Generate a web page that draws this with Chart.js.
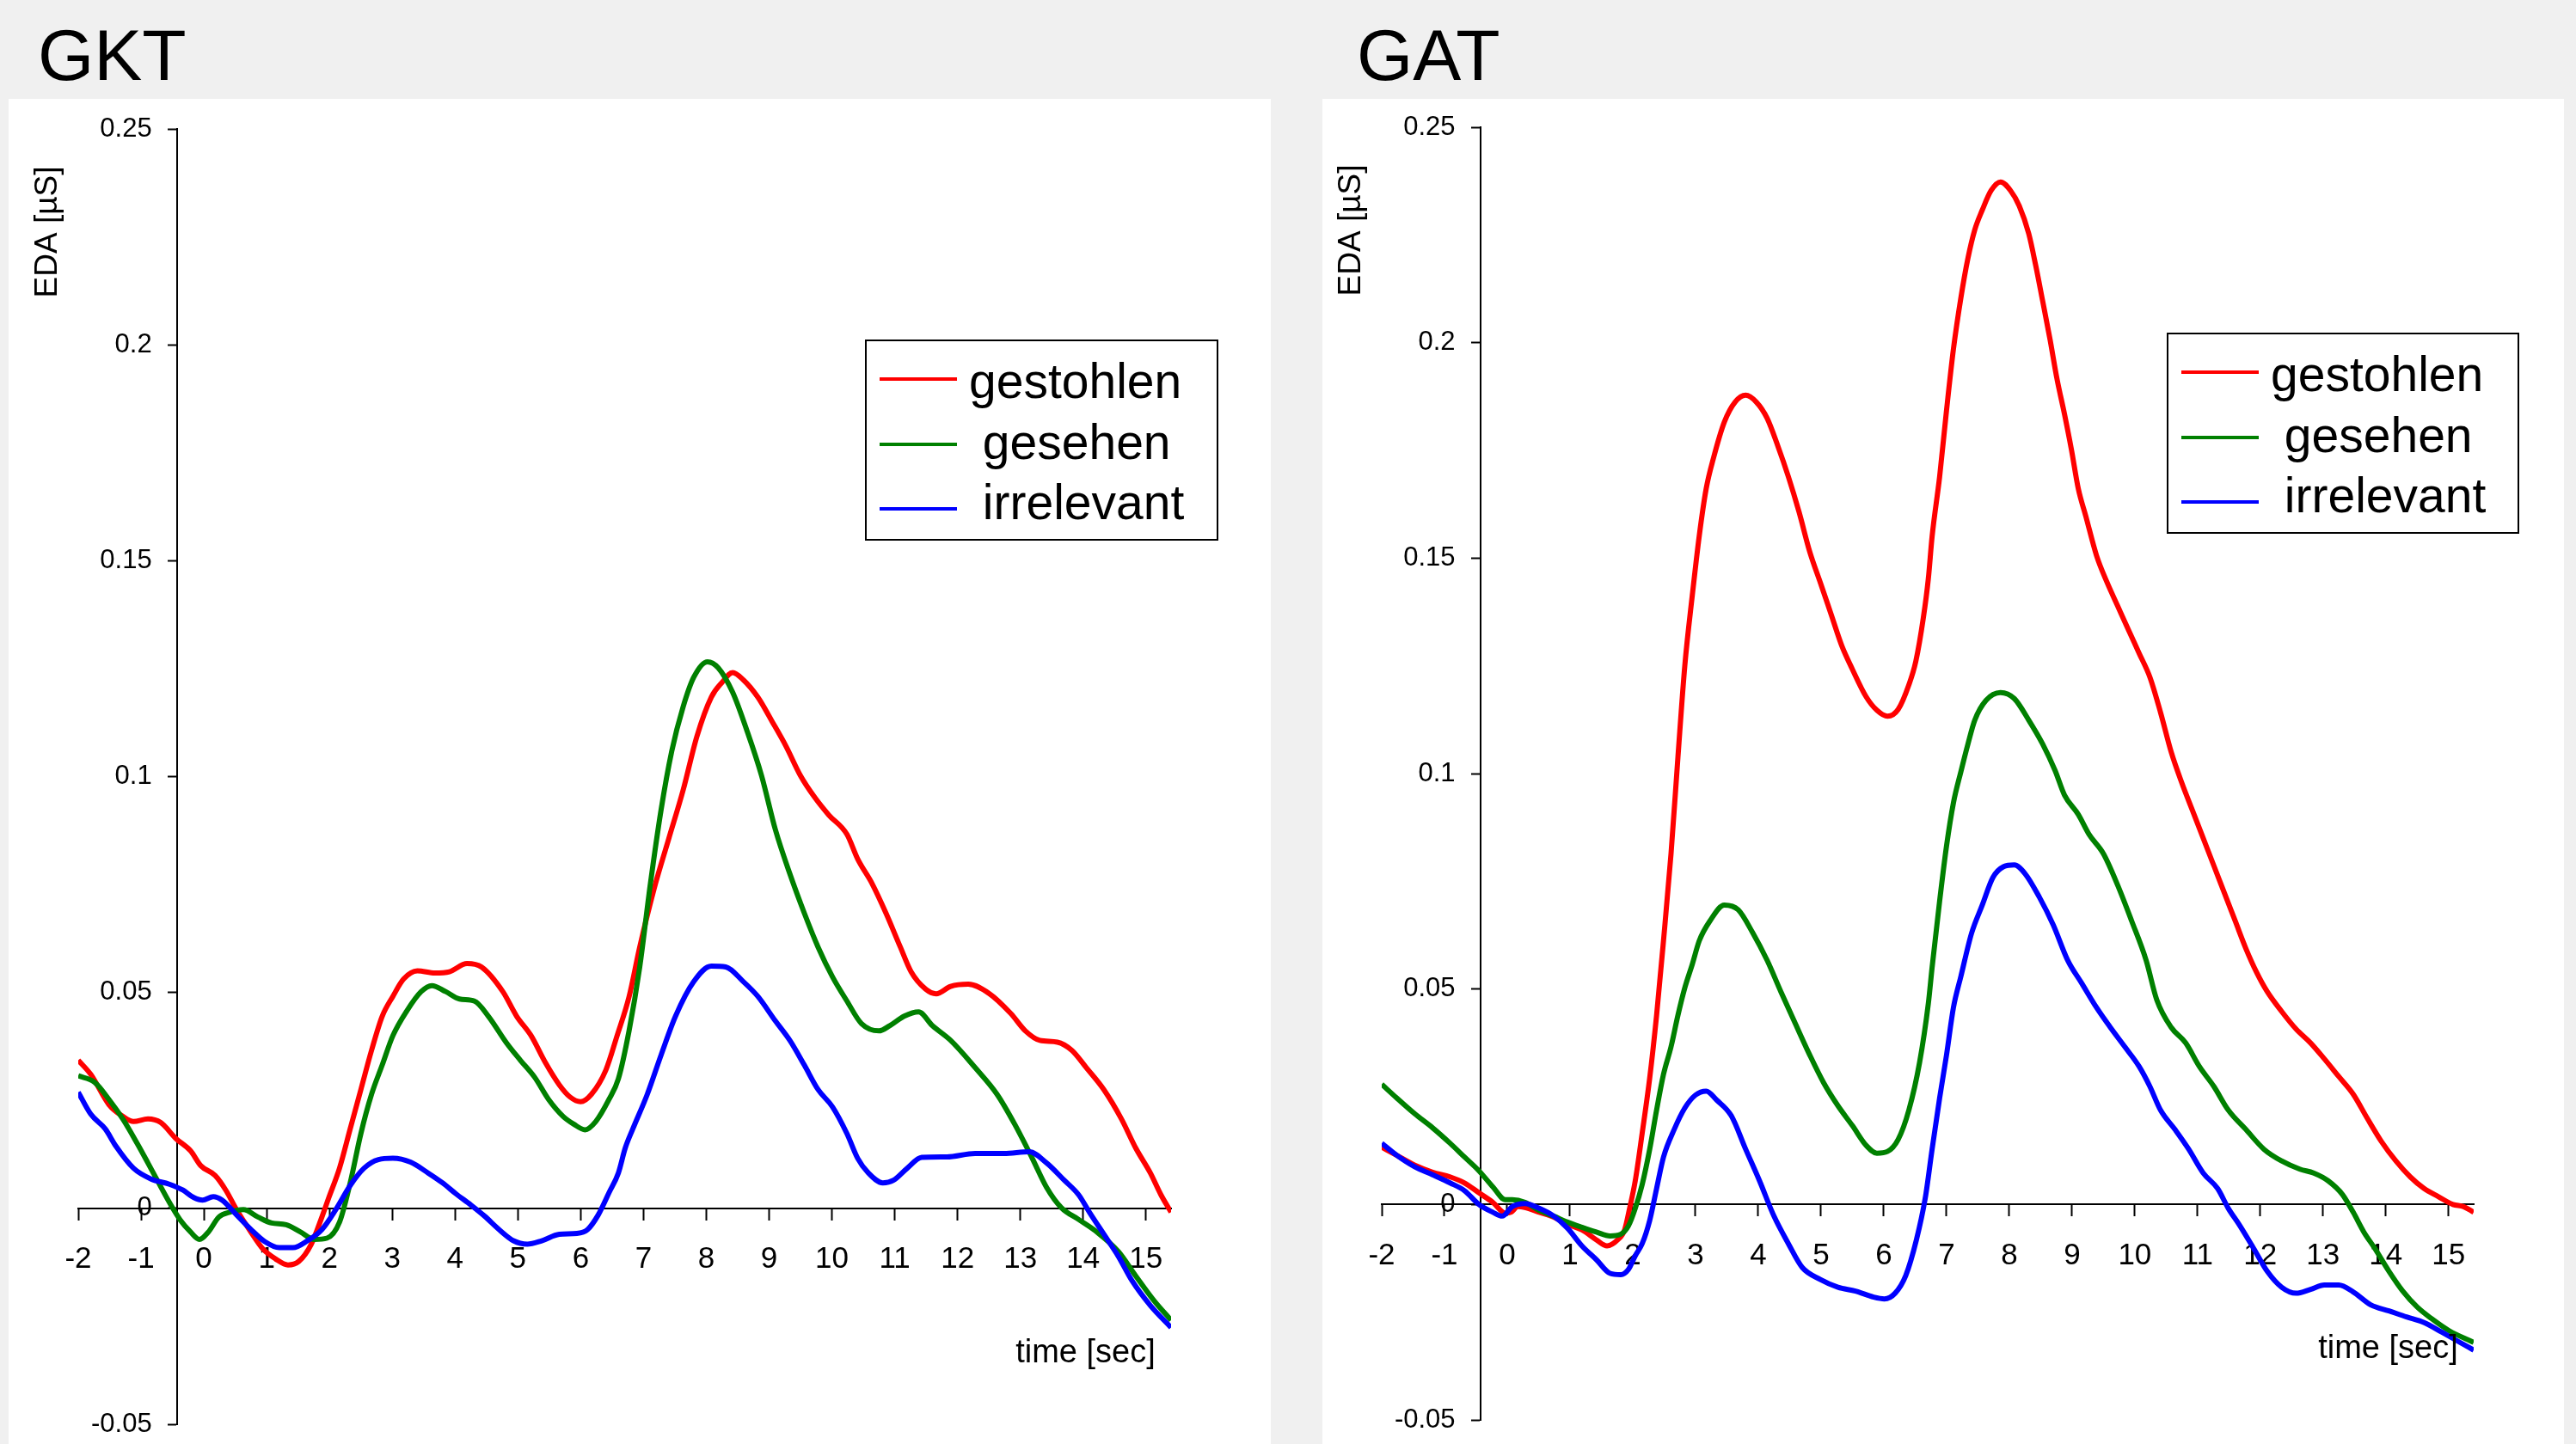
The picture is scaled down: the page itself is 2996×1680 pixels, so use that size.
<!DOCTYPE html>
<html>
<head>
<meta charset="utf-8">
<title>EDA GKT / GAT</title>
<script src="https://cdn.jsdelivr.net/npm/chart.js@4.4.1/dist/chart.umd.min.js"></script>
<style>
  html, body { margin: 0; padding: 0; background: #f0f0f0; }
  body { width: 2996px; height: 1680px; position: relative; overflow: hidden; font-family: "Liberation Sans", Arial, sans-serif; }
  .title { position: absolute; top: 22px; font-size: 84px; line-height: 84px; color: #000; }
  .panel { position: absolute; top: 115px; height: 1565px; background: #fff; }
  .panel canvas { position: absolute; left: 0; top: 0; }
</style>
</head>
<body>
<div class="title" style="left:44px">GKT</div>
<div class="title" style="left:1578px">GAT</div>
<div class="panel" style="left:10px; width:1468px"><canvas id="gkt" width="1468" height="1565"></canvas></div>
<div class="panel" style="left:1538px; width:1444px"><canvas id="gat" width="1444" height="1565"></canvas></div>
<script>
// series labels (leading spaces as in the original legend)
const labels = ['gestohlen', ' gesehen', ' irrelevant'];
const colors = ['#ff0000', '#008000', '#0000ff'];

// ---- GKT ----
const gktStolenT = [-2, -1.8, -1.51, -1.29, -1.12, -0.89, -0.69, -0.44, -0.21, -0.05, 0.18, 0.35, 0.52, 0.75, 0.94, 1.14, 1.34, 1.51, 1.71, 1.88, 1.99, 2.16, 2.33, 2.5, 2.67, 2.84, 3.01, 3.18, 3.4, 3.68, 3.91, 4.19, 4.42, 4.76, 4.98, 5.21, 5.44, 5.66, 5.83, 6.0, 6.17, 6.4, 6.58, 6.77, 6.94, 7.17, 7.4, 7.63, 7.85, 8.08, 8.25, 8.42, 8.59, 8.82, 9.05, 9.27, 9.5, 9.73, 9.95, 10.24, 10.41, 10.64, 10.86, 11.09, 11.26, 11.49, 11.66, 11.89, 12.17, 12.51, 12.85, 13.08, 13.31, 13.59, 13.82, 14.05, 14.33, 14.61, 14.84, 15.07, 15.24, 15.4];
const gktStolenV = [0.0343, 0.031, 0.024, 0.0213, 0.0201, 0.0207, 0.0199, 0.0161, 0.0133, 0.0099, 0.0076, 0.0042, -0.0003, -0.0055, -0.0094, -0.0117, -0.0131, -0.0123, -0.0083, -0.002, 0.0025, 0.0093, 0.0184, 0.0275, 0.0366, 0.0445, 0.0491, 0.0531, 0.055, 0.0545, 0.0548, 0.0567, 0.0559, 0.0502, 0.0445, 0.04, 0.0337, 0.0286, 0.0258, 0.0247, 0.0264, 0.032, 0.04, 0.049, 0.0605, 0.0741, 0.0855, 0.0968, 0.1093, 0.1184, 0.1218, 0.1241, 0.1224, 0.1184, 0.1127, 0.107, 0.1002, 0.0951, 0.0911, 0.0866, 0.0809, 0.0752, 0.0684, 0.0605, 0.0548, 0.0508, 0.0497, 0.0514, 0.0519, 0.0497, 0.0451, 0.0411, 0.0389, 0.0385, 0.0366, 0.0326, 0.0275, 0.0207, 0.0139, 0.0082, 0.0031, -0.0009];

const gktSeenT = [-2, -1.74, -1.51, -1.29, -1.06, -0.89, -0.72, -0.55, -0.38, -0.21, -0.07, 0.07, 0.24, 0.41, 0.63, 0.86, 1.08, 1.31, 1.54, 1.76, 1.96, 2.16, 2.33, 2.5, 2.67, 2.84, 3.01, 3.23, 3.46, 3.63, 3.85, 4.07, 4.31, 4.53, 4.82, 5.04, 5.27, 5.49, 5.72, 5.89, 6.07, 6.24, 6.45, 6.6, 6.77, 6.94, 7.11, 7.28, 7.45, 7.63, 7.8, 8.02, 8.19, 8.42, 8.65, 8.88, 9.1, 9.33, 9.56, 9.78, 10.01, 10.24, 10.47, 10.75, 10.92, 11.15, 11.38, 11.6, 11.89, 12.28, 12.63, 12.91, 13.19, 13.42, 13.65, 13.93, 14.22, 14.56, 14.84, 15.13, 15.4];
const gktSeenV = [0.0307, 0.0292, 0.0252, 0.0207, 0.015, 0.0105, 0.0059, 0.0014, -0.0026, -0.0055, -0.0072, -0.0055, -0.002, -0.0009, -0.0003, -0.002, -0.0034, -0.0038, -0.0055, -0.0072, -0.0069, -0.0032, 0.0059, 0.0173, 0.0264, 0.0332, 0.04, 0.0457, 0.0502, 0.0516, 0.0502, 0.0485, 0.048, 0.0445, 0.0383, 0.0343, 0.0303, 0.0252, 0.0213, 0.0195, 0.0182, 0.0201, 0.0252, 0.03, 0.0411, 0.0559, 0.0752, 0.0923, 0.1059, 0.1161, 0.123, 0.1266, 0.1252, 0.1195, 0.1105, 0.1002, 0.0877, 0.0775, 0.0684, 0.0605, 0.0536, 0.048, 0.0428, 0.0411, 0.0423, 0.0445, 0.0455, 0.0423, 0.0389, 0.0326, 0.0264, 0.0195, 0.0116, 0.0048, 0.0002, -0.0026, -0.0055, -0.01, -0.0157, -0.0214, -0.0259];

const gktIrrT = [-2, -1.8, -1.57, -1.4, -1.12, -0.84, -0.55, -0.33, -0.16, -0.02, 0.15, 0.29, 0.52, 0.75, 0.97, 1.2, 1.42, 1.65, 1.88, 2.1, 2.33, 2.55, 2.78, 3.01, 3.29, 3.57, 3.8, 4.02, 4.25, 4.47, 4.7, 4.93, 5.15, 5.38, 5.66, 5.94, 6.11, 6.28, 6.45, 6.6, 6.71, 6.83, 7.06, 7.28, 7.51, 7.8, 8.08, 8.31, 8.59, 8.82, 9.1, 9.33, 9.56, 9.78, 10.01, 10.24, 10.41, 10.58, 10.81, 10.98, 11.2, 11.43, 11.83, 12.28, 12.74, 13.14, 13.42, 13.7, 13.93, 14.1, 14.33, 14.56, 14.78, 15.07, 15.4];
const gktIrrV = [0.0269, 0.0218, 0.0184, 0.0144, 0.0093, 0.0068, 0.0056, 0.0042, 0.0025, 0.0019, 0.0027, 0.0019, -0.0015, -0.0049, -0.0077, -0.0091, -0.0091, -0.0075, -0.0049, -0.0003, 0.0053, 0.0093, 0.0113, 0.0116, 0.0107, 0.0082, 0.0059, 0.0033, 0.0008, -0.0018, -0.0049, -0.0075, -0.0083, -0.0075, -0.006, -0.0058, -0.0049, -0.0015, 0.0036, 0.0082, 0.014, 0.0184, 0.0264, 0.0355, 0.0445, 0.0525, 0.0561, 0.0559, 0.0525, 0.0491, 0.0434, 0.0389, 0.0332, 0.0275, 0.0235, 0.0173, 0.0116, 0.0082, 0.0059, 0.0065, 0.0093, 0.0118, 0.0119, 0.0127, 0.0127, 0.0131, 0.0105, 0.0065, 0.0031, -0.0009, -0.006, -0.0111, -0.0168, -0.0225, -0.0276];

// ---- GAT ----
const gatStolenT = [-2, -1.76, -1.47, -1.19, -0.91, -0.68, -0.45, -0.23, -0.03, 0.06, 0.17, 0.28, 0.51, 0.74, 0.96, 1.19, 1.42, 1.59, 1.76, 1.87, 1.95, 2.04, 2.15, 2.27, 2.38, 2.49, 2.61, 2.72, 2.83, 2.95, 3.06, 3.17, 3.29, 3.46, 3.63, 3.8, 3.97, 4.14, 4.31, 4.48, 4.65, 4.82, 4.99, 5.16, 5.33, 5.5, 5.72, 5.89, 6.06, 6.23, 6.4, 6.51, 6.63, 6.71, 6.77, 6.89, 7.0, 7.11, 7.23, 7.34, 7.45, 7.57, 7.71, 7.86, 8.02, 8.16, 8.31, 8.42, 8.53, 8.65, 8.76, 8.88, 8.99, 9.1, 9.22, 9.39, 9.56, 9.73, 9.9, 10.07, 10.24, 10.41, 10.58, 10.75, 10.92, 11.09, 11.26, 11.43, 11.6, 11.77, 11.94, 12.11, 12.34, 12.57, 12.8, 13.02, 13.25, 13.48, 13.7, 13.93, 14.16, 14.39, 14.61, 14.84, 15.07, 15.24, 15.4];
const gatStolenV = [0.0133, 0.0114, 0.0091, 0.0075, 0.0064, 0.005, 0.0027, 0.0005, -0.002, -0.0018, -0.0005, -0.0007, -0.0018, -0.0029, -0.0046, -0.0059, -0.0082, -0.0096, -0.0082, -0.0059, -0.0009, 0.0055, 0.0165, 0.0293, 0.0439, 0.0612, 0.0814, 0.1038, 0.1251, 0.1415, 0.1552, 0.1661, 0.1734, 0.1816, 0.1862, 0.1878, 0.1862, 0.1825, 0.1761, 0.1689, 0.1607, 0.1515, 0.1443, 0.137, 0.1297, 0.1242, 0.1178, 0.1147, 0.1133, 0.1149, 0.1206, 0.126, 0.1361, 0.1452, 0.155, 0.1689, 0.1843, 0.1985, 0.2105, 0.2195, 0.2262, 0.2308, 0.2353, 0.2373, 0.2353, 0.2317, 0.2253, 0.218, 0.2098, 0.2007, 0.1916, 0.1834, 0.1752, 0.1661, 0.1597, 0.1506, 0.1443, 0.1388, 0.1333, 0.1279, 0.1224, 0.1142, 0.105, 0.0978, 0.0914, 0.085, 0.0786, 0.0722, 0.0658, 0.0594, 0.0539, 0.0494, 0.0448, 0.0407, 0.0375, 0.0338, 0.0297, 0.0256, 0.0201, 0.0146, 0.0101, 0.0064, 0.0037, 0.0018, 0.0, -0.0005, -0.0018];

const gatSeenT = [-2, -1.76, -1.47, -1.19, -0.91, -0.68, -0.45, -0.23, -0.03, 0.08, 0.28, 0.51, 0.74, 0.96, 1.19, 1.42, 1.64, 1.81, 1.93, 2.04, 2.15, 2.27, 2.38, 2.49, 2.61, 2.72, 2.83, 2.95, 3.06, 3.23, 3.46, 3.68, 3.91, 4.14, 4.36, 4.59, 4.82, 5.04, 5.27, 5.5, 5.72, 5.89, 6.06, 6.23, 6.4, 6.57, 6.71, 6.77, 6.89, 7.0, 7.11, 7.23, 7.34, 7.45, 7.63, 7.86, 8.08, 8.31, 8.53, 8.73, 8.88, 9.1, 9.27, 9.5, 9.73, 9.95, 10.18, 10.35, 10.58, 10.81, 11.03, 11.26, 11.49, 11.77, 12.06, 12.34, 12.63, 12.85, 13.08, 13.31, 13.48, 13.65, 13.82, 14.05, 14.27, 14.5, 14.73, 15.01, 15.4];
const gatSeenV = [0.0279, 0.0247, 0.021, 0.0178, 0.0142, 0.011, 0.0078, 0.0041, 0.0011, 0.0011, 0.0005, -0.0014, -0.0027, -0.0041, -0.0053, -0.0064, -0.0073, -0.0069, -0.005, -0.0009, 0.0046, 0.0128, 0.0219, 0.0302, 0.0366, 0.0439, 0.0503, 0.0558, 0.0612, 0.0658, 0.0695, 0.0684, 0.0631, 0.0567, 0.0494, 0.042, 0.0347, 0.0283, 0.0229, 0.0183, 0.0137, 0.0119, 0.0123, 0.0151, 0.0219, 0.0329, 0.0466, 0.055, 0.0704, 0.0832, 0.0932, 0.1005, 0.1068, 0.1124, 0.117, 0.1188, 0.1174, 0.1124, 0.1069, 0.1007, 0.095, 0.0905, 0.0859, 0.0814, 0.074, 0.0658, 0.0567, 0.0475, 0.0411, 0.0375, 0.032, 0.0274, 0.0219, 0.0174, 0.0128, 0.0101, 0.0082, 0.0073, 0.0055, 0.0023, -0.0018, -0.0064, -0.0101, -0.0155, -0.0201, -0.0238, -0.0265, -0.0293, -0.032];

const gatIrrT = [-2, -1.76, -1.47, -1.19, -0.91, -0.68, -0.45, -0.23, -0.08, 0.08, 0.28, 0.51, 0.74, 0.96, 1.19, 1.42, 1.64, 1.81, 1.93, 2.04, 2.15, 2.27, 2.38, 2.49, 2.66, 2.83, 3.0, 3.17, 3.34, 3.57, 3.8, 4.02, 4.25, 4.48, 4.7, 4.99, 5.27, 5.55, 5.84, 6.01, 6.18, 6.35, 6.52, 6.66, 6.77, 6.89, 7.0, 7.11, 7.23, 7.4, 7.57, 7.74, 7.91, 8.08, 8.25, 8.48, 8.7, 8.93, 9.16, 9.39, 9.61, 9.84, 10.07, 10.24, 10.41, 10.64, 10.86, 11.09, 11.32, 11.49, 11.66, 11.89, 12.11, 12.34, 12.57, 12.8, 13.02, 13.25, 13.48, 13.76, 14.05, 14.33, 14.61, 14.9, 15.18, 15.4];
const gatIrrV = [0.0142, 0.0114, 0.0087, 0.0069, 0.005, 0.0032, 0.0, -0.0018, -0.0027, -0.0005, 0.0002, -0.0009, -0.0027, -0.0055, -0.0096, -0.0128, -0.016, -0.0163, -0.0151, -0.0119, -0.0091, -0.0037, 0.0037, 0.011, 0.0174, 0.0224, 0.0254, 0.0263, 0.0242, 0.0206, 0.0128, 0.0055, -0.0027, -0.0091, -0.0146, -0.0174, -0.0192, -0.0201, -0.0215, -0.0219, -0.0206, -0.0165, -0.0082, 0.0014, 0.0128, 0.0247, 0.0347, 0.0457, 0.053, 0.063, 0.0695, 0.0759, 0.0784, 0.0788, 0.0768, 0.0713, 0.0649, 0.0567, 0.0512, 0.0457, 0.0411, 0.0366, 0.032, 0.0274, 0.0219, 0.0174, 0.0128, 0.0073, 0.0037, -0.0009, -0.0046, -0.0101, -0.0155, -0.0192, -0.0206, -0.0197, -0.0187, -0.0187, -0.0203, -0.0233, -0.0247, -0.0261, -0.0274, -0.0297, -0.032, -0.0338];

// axis settings
const xMin = -2, xMax = 15.4, yMin = -0.05, yMax = 0.25;
const yAxisAt = -0.43;   // where the value axis crosses the time axis

const FONT = '"Liberation Sans", Arial, sans-serif';

function pairs(t, v) {
  return t.map((x, i) => ({ x: x, y: v[i] }));
}

// keep the axes from reserving layout space; padding alone fixes the plot box
function noSpace(s) {
  if (s.isHorizontal()) s.height = 0; else s.width = 0;
  s.paddingTop = s.paddingBottom = s.paddingLeft = s.paddingRight = 0;
}

// y tick labels, axis titles and the boxed legend
const panelText = {
  id: 'panelText',
  afterDraw(chart, args, opts) {
    const ctx = chart.ctx;
    const xs = chart.scales.x, ys = chart.scales.y;
    const axisX = xs.getPixelForValue(yAxisAt);
    ctx.save();
    ctx.fillStyle = '#000';

    // y tick labels
    ctx.font = '31px ' + FONT;
    ctx.textAlign = 'right';
    ctx.textBaseline = 'middle';
    ys.ticks.forEach((tk) => {
      ctx.fillText(String(Math.round(tk.value * 100) / 100), axisX - 29, ys.getPixelForValue(tk.value));
    });

    // y title
    ctx.save();
    ctx.font = '37px ' + FONT;
    ctx.translate(axisX - 140, chart.chartArea.top + 120);
    ctx.rotate(-Math.PI / 2);
    ctx.textAlign = 'center';
    ctx.textBaseline = 'alphabetic';
    ctx.fillText('EDA [µS]', 0, 0);
    ctx.restore();

    // x title
    ctx.font = '38px ' + FONT;
    ctx.textAlign = 'right';
    ctx.textBaseline = 'alphabetic';
    ctx.fillText('time [sec]', xs.getPixelForValue(15.15), ys.getPixelForValue(-0.0356));

    // legend
    const lg = opts.legend;
    const lineY = [45, 121, 196];
    const textY = [67, 138, 208];
    ctx.lineWidth = 2;
    ctx.strokeStyle = '#000';
    ctx.strokeRect(lg.left, lg.top, lg.width, lg.height);
    ctx.font = '57px ' + FONT;
    ctx.textAlign = 'left';
    chart.data.datasets.forEach((ds, i) => {
      ctx.strokeStyle = ds.borderColor;
      ctx.lineWidth = 4;
      ctx.beginPath();
      ctx.moveTo(lg.left + 16, lg.top + lineY[i]);
      ctx.lineTo(lg.left + 106, lg.top + lineY[i]);
      ctx.stroke();
      ctx.fillText(ds.label, lg.left + 120, lg.top + textY[i]);
    });
    ctx.restore();
  }
};

function makeChart(id, series, pad, legend) {
  const datasets = series.map((s, i) => ({
    label: labels[i],
    data: pairs(s[0], s[1]),
    borderColor: colors[i],
    borderWidth: 6,
    pointRadius: 0,
    fill: false,
    cubicInterpolationMode: 'monotone',
    order: 2 - i
  }));
  return new Chart(document.getElementById(id), {
    type: 'line',
    data: { datasets: datasets },
    options: {
      responsive: false,
      animation: false,
      devicePixelRatio: 1,
      layout: { padding: pad },
      plugins: {
        legend: { display: false },
        tooltip: { enabled: false },
        panelText: { legend: legend }
      },
      scales: {
        x: {
          type: 'linear',
          min: xMin,
          max: xMax,
          position: { y: 0 },
          afterFit: noSpace,
          border: { color: '#000', width: 2 },
          grid: { drawOnChartArea: false, tickLength: 13, tickWidth: 2, tickColor: '#000' },
          ticks: {
            stepSize: 1,
            includeBounds: false,
            autoSkip: false,
            maxRotation: 0,
            padding: 26,
            color: '#000',
            font: { family: FONT, size: 35 },
            callback: (v) => String(v)
          }
        },
        y: {
          type: 'linear',
          min: yMin,
          max: yMax,
          position: { x: yAxisAt },
          afterFit: noSpace,
          border: { color: '#000', width: 2 },
          grid: { drawOnChartArea: false, tickLength: 10, tickWidth: 2, tickColor: '#000' },
          ticks: { stepSize: 0.05, display: false }
        }
      }
    },
    plugins: [panelText]
  });
}

makeChart('gkt',
  [[gktStolenT, gktStolenV], [gktSeenT, gktSeenV], [gktIrrT, gktIrrV]],
  { left: 81, top: 35, right: 116, bottom: 23 },
  { left: 997, top: 281, width: 409, height: 232 });

makeChart('gat',
  [[gatStolenT, gatStolenV], [gatSeenT, gatSeenV], [gatIrrT, gatIrrV]],
  { left: 69, top: 33, right: 105, bottom: 28 },
  { left: 983, top: 273, width: 408, height: 232 });
</script>
</body>
</html>
